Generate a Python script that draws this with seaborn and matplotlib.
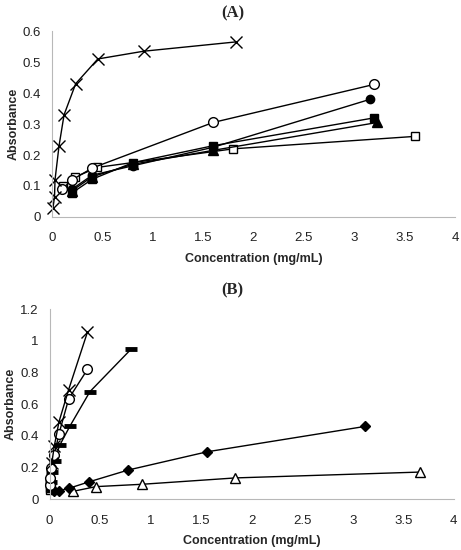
import matplotlib
matplotlib.use("Agg")
import matplotlib.pyplot as plt
import seaborn as sns

sns.set_style("white")
plt.rcParams['font.family'] = ['Liberation Sans', 'DejaVu Sans']

# ---- panel A data ----
a_cross_x = [0.01, 0.025, 0.03, 0.07, 0.12, 0.235, 0.455, 0.91, 1.825]
a_cross_y = [0.03, 0.065, 0.12, 0.23, 0.33, 0.43, 0.51, 0.535, 0.565]
a_ocirc_x = [0.1, 0.2, 0.4, 1.6, 3.2]
a_ocirc_y = [0.09, 0.12, 0.158, 0.305, 0.428]
a_fcirc_x = [0.2, 0.4, 0.8, 1.6, 3.16]
a_fcirc_y = [0.09, 0.135, 0.165, 0.225, 0.38]
a_fsq_x = [0.2, 0.4, 0.8, 1.6, 3.2]
a_fsq_y = [0.078, 0.122, 0.175, 0.23, 0.32]
a_ftri_x = [0.2, 0.4, 0.8, 1.6, 3.23]
a_ftri_y = [0.085, 0.13, 0.17, 0.215, 0.305]
a_osq_x = [0.11, 0.225, 0.45, 1.8, 3.6]
a_osq_y = [0.1, 0.128, 0.16, 0.22, 0.26]

# ---- panel B data ----
b_cross_x = [0.023, 0.047, 0.094, 0.188, 0.375]
b_cross_y = [0.23, 0.335, 0.49, 0.69, 1.055]
b_ocirc_x = [0.003, 0.006, 0.012, 0.047, 0.094, 0.19, 0.375]
b_ocirc_y = [0.09, 0.133, 0.196, 0.28, 0.415, 0.635, 0.82]
b_dash_x = [0.0125, 0.025, 0.05, 0.1, 0.2, 0.4, 0.81]
b_dash_y = [0.11, 0.17, 0.24, 0.34, 0.46, 0.68, 0.95]
b_diam_x = [0.024, 0.049, 0.098, 0.195, 0.39, 0.78, 1.56, 3.12]
b_diam_y = [0.065, 0.055, 0.055, 0.07, 0.11, 0.185, 0.30, 0.46]
b_otri_x = [0.23, 0.46, 0.92, 1.84, 3.67]
b_otri_y = [0.05, 0.08, 0.095, 0.135, 0.172]
b_osq_x = [0.002, 0.005, 0.01]
b_osq_y = [0.06, 0.07, 0.08]

fig = plt.figure(figsize=(4.61, 5.5), dpi=100)
axA = fig.add_axes([0.1128, 0.6055, 0.874, 0.338])
axB = fig.add_axes([0.1074, 0.0922, 0.877, 0.3455])

def draw(ax, x, y, marker, filled=True, ms=6, mew=1.0):
    fc = 'black' if filled else 'white'
    sns.lineplot(x=x, y=y, ax=ax, color='black', lw=1.0, marker=marker,
                 markersize=ms, markerfacecolor=fc, markeredgecolor='black',
                 markeredgewidth=mew, sort=False)

# panel A
draw(axA, a_osq_x, a_osq_y, 's', filled=False, ms=6)
draw(axA, a_ftri_x, a_ftri_y, '^', ms=7)
draw(axA, a_fsq_x, a_fsq_y, 's', ms=6)
draw(axA, a_fcirc_x, a_fcirc_y, 'o', ms=6)
draw(axA, a_ocirc_x, a_ocirc_y, 'o', filled=False, ms=7)
draw(axA, a_cross_x, a_cross_y, 'x', ms=8, mew=1.0)

# panel B
draw(axB, b_osq_x, b_osq_y, 's', filled=False, ms=6)
draw(axB, b_otri_x, b_otri_y, '^', filled=False, ms=7)
draw(axB, b_diam_x, b_diam_y, 'D', ms=5)
draw(axB, b_dash_x, b_dash_y, '_', ms=8, mew=3.5)
draw(axB, b_ocirc_x, b_ocirc_y, 'o', filled=False, ms=7)
draw(axB, b_cross_x, b_cross_y, 'x', ms=8, mew=1.0)

for ax, ymax, ystep, title, ty in [(axA, 0.6, 0.1, '(A)', 0.976), (axB, 1.2, 0.2, '(B)', 0.472)]:
    ax.set_xlim(0, 4)
    ax.set_ylim(0, ymax)
    ax.set_xticks([0, 0.5, 1, 1.5, 2, 2.5, 3, 3.5, 4])
    ax.set_xticklabels(['0', '0.5', '1', '1.5', '2', '2.5', '3', '3.5', '4'])
    n = int(round(ymax / ystep))
    yt = [round(i * ystep, 1) for i in range(n + 1)]
    ax.set_yticks(yt)
    ax.set_yticklabels(['0' if v == 0 else ('1' if v == 1 else f'{v:g}') for v in yt])
    for s in ['top', 'right']:
        ax.spines[s].set_visible(False)
    for s in ['left', 'bottom']:
        ax.spines[s].set_color('#b8b8b8')
        ax.spines[s].set_linewidth(0.8)
    ax.tick_params(axis='both', direction='out', length=4, width=0.8,
                   color='#b8b8b8', labelsize=9.5, labelcolor='#222222', pad=4)
    ax.tick_params(axis='x', pad=7)
    ax.set_xlabel('Concentration (mg/mL)', fontsize=9, fontweight='bold', labelpad=6)
    ax.set_ylabel('Absorbance', fontsize=9, fontweight='bold', labelpad=2)
    fig.text(0.505, ty, title, fontsize=12, fontweight='bold', family='Liberation Serif',
             ha='center', va='center')
    for line in ax.lines:
        line.set_clip_on(False)

fig.savefig('out.png', dpi=100)
